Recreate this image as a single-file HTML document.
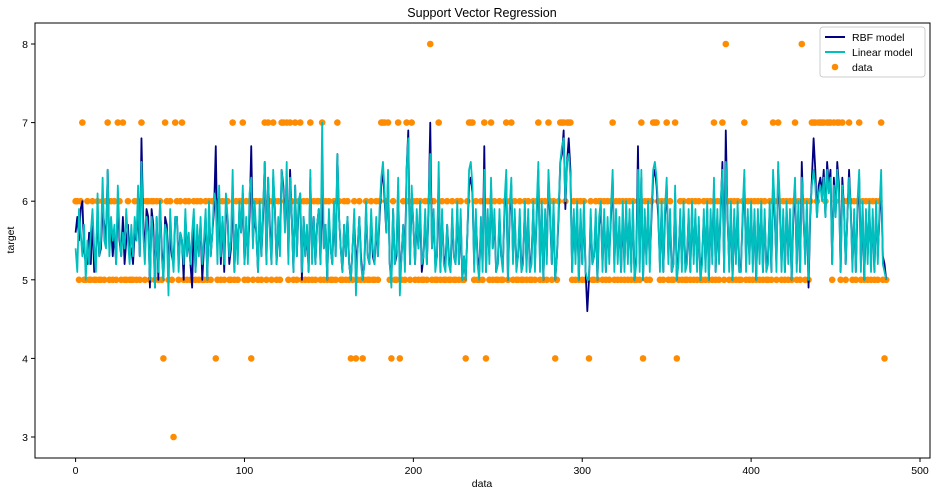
<!DOCTYPE html>
<html><head><meta charset="utf-8"><style>
html,body{margin:0;padding:0;background:#fff;}
svg{display:block;font-family:"Liberation Sans","DejaVu Sans",sans-serif;}
</style></head><body>
<svg id="chart" width="939" height="496"></svg>
<script>
const target = [
6,6,5,6,7,5,5,6,5,5,6,5,5,6,5,5,6,5,6,7,
5,6,5,6,5,7,6,5,7,5,5,6,5,5,5,6,5,6,5,7,
6,5,6,6,5,6,6,5,6,5,6,5,4,7,6,5,6,5,3,7,
6,5,6,7,5,6,5,6,5,5,6,5,6,5,6,5,5,6,5,6,
5,6,6,4,5,6,5,6,5,6,6,5,5,7,5,6,5,6,6,7,
5,6,5,6,4,5,6,6,5,6,5,6,7,5,7,6,5,7,6,5,
6,5,7,7,6,7,5,7,6,5,7,5,6,7,5,6,5,6,5,7,
5,6,5,6,6,5,7,5,6,5,6,5,5,6,5,7,6,5,5,6,
5,6,5,4,5,6,4,5,6,5,4,5,6,5,5,6,5,5,6,5,
6,7,7,7,6,7,5,4,6,5,5,7,4,5,6,5,7,6,5,7,
6,5,6,5,6,5,5,6,5,6,8,5,6,5,5,7,5,6,5,5,
6,5,5,6,5,5,6,5,6,5,5,4,6,7,7,7,5,6,5,5,
6,5,7,4,6,5,7,5,6,5,5,6,5,5,6,7,5,6,7,5,
6,5,5,6,5,5,6,5,6,5,5,6,5,6,7,5,6,5,6,5,
7,6,5,6,4,5,6,7,7,7,6,7,7,7,5,6,5,6,5,6,
5,6,5,5,4,6,5,5,6,5,6,6,5,6,5,6,5,6,7,5,
6,5,6,5,6,5,6,5,6,5,6,5,5,6,5,7,4,6,5,6,
5,6,7,7,7,6,5,6,5,6,7,5,6,5,5,7,4,5,6,5,
6,5,5,6,5,6,5,6,5,6,5,5,6,5,6,5,6,5,7,5,
6,5,6,7,5,8,6,5,6,5,6,5,6,5,5,6,7,5,6,5,
6,5,6,5,6,5,6,5,6,5,5,6,5,7,6,5,7,6,5,6,
5,6,5,6,5,6,7,5,6,5,8,6,5,6,5,6,7,7,7,6,
7,7,7,7,6,7,7,7,5,7,6,7,7,5,7,6,5,6,7,6,
5,6,5,6,7,5,6,5,6,5,6,5,6,5,6,5,6,7,5,4,
5];
const rbf = [
5.6,5.8,5.5,5.9,6.0,5.4,5.2,5.2,5.6,5.2,5.8,5.1,5.3,5.8,5.3,5.4,5.9,5.7,5.5,6.4,
5.4,5.7,5.3,5.6,5.2,6.0,5.5,5.3,5.8,5.2,5.5,5.7,5.3,5.4,5.2,5.6,5.5,5.9,5.3,6.8,
5.8,5.3,5.9,5.8,4.9,5.9,5.7,4.9,5.8,5.0,6.0,5.4,5.0,5.8,5.7,5.1,5.6,5.3,5.2,5.8,
5.8,5.2,5.6,5.5,5.0,5.8,5.4,5.5,5.2,4.9,5.8,5.1,5.6,5.4,5.7,5.0,5.4,5.8,5.0,5.9,
5.3,5.6,5.9,6.7,5.4,5.9,5.2,5.8,5.1,5.9,5.8,5.2,5.4,6.2,5.1,5.7,5.3,5.9,5.6,6.1,
5.2,5.7,5.3,5.8,6.7,5.5,5.8,5.6,5.1,5.9,5.3,5.8,6.5,5.2,6.3,5.7,5.2,6.3,5.9,5.2,
5.7,5.4,6.4,6.2,5.7,6.3,5.3,6.4,5.8,5.1,6.2,5.3,5.9,6.1,5.0,5.8,5.3,5.6,5.1,6.3,
5.3,5.8,5.2,5.7,5.9,5.2,6.2,5.4,5.7,5.0,5.8,5.4,5.2,5.9,5.3,6.6,5.8,5.4,5.1,5.7,
5.3,5.8,5.2,5.0,5.4,5.8,5.2,5.4,5.8,5.3,5.0,5.2,5.9,5.3,5.2,5.8,5.3,5.2,5.7,5.3,
5.8,6.2,6.4,6.0,5.6,6.3,5.2,5.0,5.9,5.2,5.3,6.2,5.0,5.3,5.7,5.2,6.4,6.9,5.2,6.1,
5.7,5.2,5.8,5.4,5.9,5.1,5.3,5.8,5.2,5.9,7.0,5.4,5.8,5.2,5.3,6.3,5.1,5.8,5.3,5.2,
5.7,5.3,5.1,5.8,5.3,5.2,5.9,5.2,5.8,5.0,5.3,5.0,5.6,6.2,6.3,6.1,5.2,5.8,5.3,5.1,
5.7,5.2,6.7,5.1,5.8,5.3,6.2,5.4,5.8,5.1,5.2,5.8,5.3,5.2,5.9,6.3,5.0,5.8,6.2,5.3,
5.8,5.2,5.3,5.8,5.1,5.3,5.9,5.2,5.8,5.1,5.3,5.9,5.2,5.8,6.4,5.2,5.9,5.0,5.8,5.3,
6.3,5.8,5.2,5.9,5.0,5.3,5.8,6.5,6.6,6.9,5.9,6.5,6.8,6.4,5.1,5.8,5.3,5.9,5.0,5.8,
5.2,5.9,5.1,4.6,5.0,5.8,5.2,5.3,5.8,5.0,5.7,5.9,5.2,5.8,5.1,5.7,5.3,5.8,6.3,5.2,
5.8,5.3,5.7,5.1,5.8,5.2,5.9,5.3,5.8,5.2,5.9,5.0,5.3,6.7,5.2,6.3,5.0,5.8,5.3,5.9,
5.2,5.8,6.3,6.4,6.2,5.8,5.2,5.9,5.1,5.8,6.2,5.3,5.8,5.1,5.2,6.1,5.0,5.3,5.8,5.2,
5.9,5.2,5.3,5.8,5.1,5.9,5.3,5.8,5.2,5.7,5.0,5.3,5.8,5.2,5.9,5.0,5.8,5.3,6.2,5.1,
5.8,5.3,5.9,6.5,5.1,6.9,5.8,5.2,5.9,5.0,5.8,5.3,5.9,5.1,5.2,5.8,6.3,5.2,5.8,5.3,
5.9,5.2,5.8,5.0,5.8,5.3,5.9,5.1,5.8,5.2,5.3,5.9,5.1,6.3,5.8,5.2,6.4,5.9,5.2,5.8,
5.1,5.9,5.3,5.8,5.0,5.8,6.2,5.2,5.9,5.1,6.5,5.8,5.3,5.9,4.9,5.8,6.3,6.8,6.4,5.8,
6.2,6.3,6.1,6.4,5.8,6.5,6.2,6.4,5.2,6.3,5.8,6.5,6.2,5.1,6.3,5.9,5.2,5.8,6.4,5.9,
5.2,5.8,5.1,5.9,6.3,5.2,5.9,5.0,5.8,5.3,5.9,5.2,5.8,5.1,5.9,5.3,5.8,6.2,5.3,5.2,
5.0];
const linear = [
5.4,5.1,5.9,5.6,5.3,5.7,5.0,5.5,5.2,5.6,5.9,5.4,5.1,6.1,5.3,5.5,6.3,5.5,5.4,6.4,
5.3,5.8,5.5,5.7,5.2,6.2,5.6,5.3,5.6,5.4,5.9,5.5,5.2,5.7,5.3,5.8,5.5,6.2,5.3,6.5,
5.6,5.2,5.8,5.6,5.0,5.8,5.5,4.9,5.8,5.1,6.0,5.3,5.0,5.7,5.6,4.8,5.9,5.4,5.1,5.8,
5.8,5.1,5.6,5.5,5.2,5.9,5.3,5.6,5.2,5.6,5.9,5.1,5.7,5.3,5.8,5.2,5.5,5.9,5.0,6.0,
5.3,5.6,6.1,6.0,5.2,6.2,5.3,5.8,5.2,6.1,5.8,5.3,5.5,6.4,5.1,5.7,5.2,6.0,5.6,6.2,
5.2,5.8,5.2,6.1,6.3,5.4,6.0,5.6,5.1,6.0,5.3,5.9,6.5,5.2,6.3,5.6,5.2,6.4,5.9,5.2,
5.8,5.3,6.4,6.1,5.6,6.5,5.2,6.3,5.8,5.1,6.2,5.3,6.0,6.1,5.1,5.8,5.3,5.7,5.1,6.4,
5.2,5.8,5.2,5.7,5.9,5.2,7.0,5.4,5.7,5.0,5.9,5.4,5.2,6.0,5.3,6.6,5.8,5.4,5.1,5.7,
5.3,5.8,5.2,5.0,5.4,5.9,4.8,5.4,5.8,5.2,5.0,5.2,6.0,5.3,5.2,5.9,5.4,5.2,5.8,5.3,
5.9,6.3,6.5,6.1,5.6,6.4,5.2,4.9,5.9,5.2,5.4,6.3,4.8,5.3,5.7,5.1,6.4,6.8,5.2,6.2,
5.7,5.2,5.9,5.4,6.0,5.2,5.3,5.9,5.2,6.0,6.6,5.4,5.9,5.1,5.3,6.5,5.1,5.9,5.2,5.1,
5.7,5.2,5.1,5.9,5.3,5.2,6.0,5.2,5.9,5.0,5.3,5.0,5.6,6.4,6.5,6.2,5.1,5.9,5.2,5.0,
5.8,5.1,6.4,5.1,5.9,5.2,6.3,5.4,5.9,5.1,5.2,5.9,5.3,5.1,6.0,6.4,5.0,5.9,6.3,5.2,
5.9,5.1,5.3,5.9,5.1,5.2,6.0,5.1,5.9,5.1,5.2,6.0,5.1,5.9,6.5,5.1,6.0,5.0,5.9,5.2,
6.4,5.9,5.2,6.0,5.0,5.3,5.9,6.5,6.7,6.8,6.0,6.5,6.6,6.3,5.1,5.9,5.2,6.0,5.0,5.9,
5.2,6.0,5.1,5.0,5.0,5.9,5.2,5.3,5.9,5.0,5.8,6.0,5.1,5.9,5.1,5.8,5.2,5.9,6.4,5.1,
5.9,5.2,5.8,5.1,6.0,5.1,6.0,5.2,5.9,5.1,6.0,5.0,5.2,6.4,5.1,6.4,5.0,5.9,5.2,6.0,
5.1,5.9,6.4,6.5,6.3,5.9,5.1,6.0,5.1,5.9,6.3,5.2,5.9,5.1,5.2,6.2,5.0,5.2,5.9,5.1,
6.0,5.1,5.2,5.9,5.1,6.0,5.2,5.9,5.1,5.8,5.0,5.2,5.9,5.1,6.0,5.0,5.9,5.2,6.3,5.1,
5.9,5.2,6.0,6.4,5.1,6.5,5.9,5.1,6.0,5.0,5.9,5.2,6.0,5.1,5.1,5.9,6.4,5.1,5.9,5.2,
6.0,5.1,5.9,5.0,5.9,5.2,6.0,5.1,5.9,5.1,5.2,6.0,5.1,6.4,5.9,5.1,6.5,6.0,5.1,5.9,
5.1,6.0,5.2,5.9,5.0,5.9,6.3,5.1,6.0,5.1,6.3,5.9,5.2,6.0,5.0,5.9,6.2,6.4,6.2,5.8,
6.1,6.2,6.0,6.3,5.8,6.4,6.1,6.3,5.2,6.2,5.8,6.4,6.1,5.1,6.2,5.9,5.2,5.8,6.3,5.9,
5.1,5.9,5.1,6.0,6.4,5.1,6.0,5.0,5.9,5.2,6.0,5.1,5.9,5.1,6.0,5.2,5.9,6.4,5.2,5.1,
5.0];
const xTicks = [0,100,200,300,400,500];
const yTicks = [3,4,5,6,7,8];

const NS='http://www.w3.org/2000/svg';
const svg=document.getElementById('chart');
const L=35,R=930,T=23,B=458;
function sx(v){return 75.6+v*(920-75.6)/500;}
function sy(v){return 44+(8-v)*(437-44)/5;}
function mk(tag,attrs,parent){const e=document.createElementNS(NS,tag);for(const k in attrs)e.setAttribute(k,attrs[k]);(parent||svg).appendChild(e);return e;}

const t=mk('text',{x:482,y:17,'text-anchor':'middle','font-size':12.5,fill:'#000'});


t.textContent='Support Vector Regression';

const pts=mk('g',{});


target.forEach((v,i)=>{
  const c=mk('circle',{cx:sx(i),cy:sy(v),r:3.3,fill:'#ff8c00'},pts);
  
  
});
function line(arr,color,name){
  const p=mk('polyline',{points:arr.map((v,i)=>sx(i).toFixed(2)+','+sy(v).toFixed(2)).join(' '),fill:'none',stroke:color,'stroke-width':1.8,'stroke-linejoin':'round'});
  
  
}
line(rbf,'#000080','rbf-line');
line(linear,'#00bfbf','linear-line');

const fr=mk('rect',{x:L,y:T,width:R-L,height:B-T,fill:'none',stroke:'#000','stroke-width':1});



xTicks.forEach(v=>{
  mk('line',{x1:sx(v),x2:sx(v),y1:B,y2:B+4,stroke:'#000'});
  const tx=mk('text',{x:sx(v),y:B+16,'text-anchor':'middle','font-size':10.5});
  
  
  tx.textContent=v;
});
yTicks.forEach(v=>{
  mk('line',{x1:L-4,x2:L,y1:sy(v),y2:sy(v),stroke:'#000'});
  const tx=mk('text',{x:L-7,y:sy(v)+4,'text-anchor':'end','font-size':10.5});
  
  
  tx.textContent=v;
});
const xl=mk('text',{x:482,y:487,'text-anchor':'middle','font-size':10.5});


xl.textContent='data';
const yl=mk('text',{x:14,y:240,'text-anchor':'middle','font-size':10.5,transform:'rotate(-90 14 240)'});


yl.textContent='target';

const lg=mk('g',{});


mk('rect',{x:820,y:27,width:105,height:50,rx:3,fill:'#fff','fill-opacity':0.8,stroke:'#ccc'},lg);
[['RBF model','#000080',37],['Linear model','#00bfbf',52]].forEach(([n,c,y])=>{
  mk('line',{x1:825,x2:845,y1:y,y2:y,stroke:c,'stroke-width':2},lg);
  const tx=mk('text',{x:852,y:y+4,'font-size':10.5},lg);
  
  
  tx.textContent=n;
});
mk('circle',{cx:835,cy:67,r:3.3,fill:'#ff8c00'},lg);
const dl=mk('text',{x:852,y:71,'font-size':10.5},lg);


dl.textContent='data';
</script>
</body></html>
